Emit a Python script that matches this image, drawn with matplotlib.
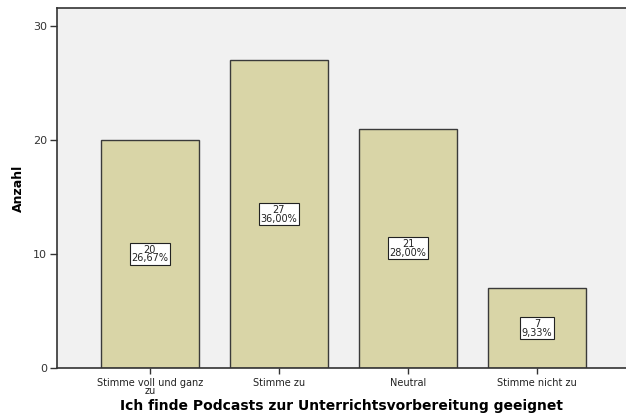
import matplotlib
matplotlib.use("Agg")
import matplotlib.pyplot as plt

categories = ["Stimme voll und ganz\nzu", "Stimme zu", "Neutral", "Stimme nicht zu"]
counts = [20, 27, 21, 7]
percents = ["26,67%", "36,00%", "28,00%", "9,33%"]
yticks = [0, 10, 20, 30]

fig = plt.figure(figsize=(6.26, 4.16), dpi=100)
ax = fig.add_axes([57/626, 48/416, 1 - 57/626, 360/416])
ax.set_facecolor("#F1F1F1")
x = list(range(len(categories)))
ax.bar(x, counts, width=0.76, color="#D9D5A7", edgecolor="#3a3a3a", linewidth=1.0, zorder=2)
for xi, c, p in zip(x, counts, percents):
    ax.text(xi, c / 2, f"{c}\n{p}", ha="center", va="center", fontsize=7, linespacing=0.85,
            color="#222222",
            bbox=dict(boxstyle="square,pad=0.15", facecolor="white", edgecolor="#222222", linewidth=0.8),
            zorder=3)

ax.set_xlim(-0.72, 3.69)
ax.set_ylim(0, 31.58)
ax.set_yticks(yticks)
ax.set_xticks(x)
ax.set_xticklabels(categories, fontsize=7, linespacing=0.8, color="#222222")
ax.tick_params(axis="y", labelsize=8, length=5, width=1, color="#333333", pad=2, labelcolor="#333333")
ax.tick_params(axis="x", length=4, width=1, color="#333333", pad=3)
for s in ["right"]:
    ax.spines[s].set_visible(False)
for s in ["left", "bottom", "top"]:
    ax.spines[s].set_color("#333333")
    ax.spines[s].set_linewidth(1.2)
ax.set_xlabel("Ich finde Podcasts zur Unterrichtsvorbereitung geeignet", fontsize=10, fontweight="bold", labelpad=2)
ax.set_ylabel("Anzahl", fontsize=9, fontweight="bold", labelpad=6)
fig.savefig("out.png", dpi=100)
